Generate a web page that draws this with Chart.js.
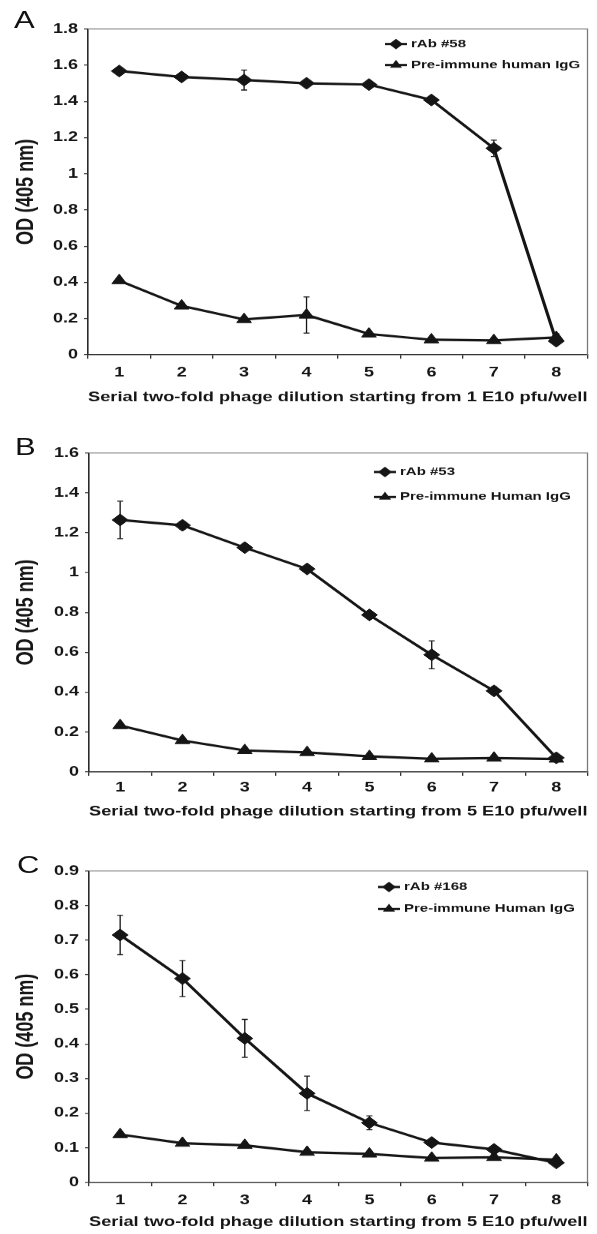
<!DOCTYPE html>
<html>
<head>
<meta charset="utf-8">
<script src="https://cdn.jsdelivr.net/npm/chart.js@4/dist/chart.umd.min.js"></script>
<style>
  html, body { margin: 0; padding: 0; background: #fff; }
  body { width: 597px; height: 1234px; position: relative; overflow: hidden; }
  /* the scanned figure is squashed vertically, so each panel is drawn tall and scaled down */
  .panel { position: absolute; left: 0; width: 597px; transform: scaleY(0.75); transform-origin: 0 0; }
  .panel canvas { position: absolute; left: 0; top: 0; }
  .letter { position: absolute; font: 31px "Liberation Sans", Arial, sans-serif; line-height: 1; color: #111; }
</style>
</head>
<body>
<div class="panel" id="pA"><canvas id="cA"></canvas><div class="letter">A</div></div>
<div class="panel" id="pB"><canvas id="cB"></canvas><div class="letter">B</div></div>
<div class="panel" id="pC"><canvas id="cC"></canvas><div class="letter">C</div></div>
<script>
const dilutions = ['1', '2', '3', '4', '5', '6', '7', '8'];

// panel A
const rab58 = [1.568, 1.535, 1.518, 1.500, 1.493, 1.408, 1.141, 0.075];
const rab58Err = [0.02, 0.01, 0.055, 0.012, 0.012, 0.015, 0.045, 0.015];
const preA = [0.410, 0.270, 0.195, 0.220, 0.115, 0.083, 0.079, 0.096];
const preAErr = [0.01, 0.015, 0.01, 0.10, 0.01, 0.008, 0.008, 0.02];
const yTicksA = [0, 0.2, 0.4, 0.6, 0.8, 1, 1.2, 1.4, 1.6, 1.8];

// panel B
const rab53 = [1.264, 1.237, 1.125, 1.018, 0.787, 0.587, 0.406, 0.070];
const rab53Err = [0.094, 0.02, 0.015, 0.012, 0.015, 0.07, 0.02, 0.01];
const preB = [0.232, 0.157, 0.107, 0.097, 0.077, 0.065, 0.069, 0.064];
const preBErr = [0.01, 0.01, 0.008, 0.008, 0.006, 0.006, 0.006, 0.006];
const yTicksB = [0, 0.2, 0.4, 0.6, 0.8, 1, 1.2, 1.4, 1.6];

// panel C
const rab168 = [0.715, 0.589, 0.416, 0.257, 0.172, 0.115, 0.095, 0.056];
const rab168Err = [0.057, 0.052, 0.055, 0.05, 0.02, 0.008, 0.008, 0.006];
const preC = [0.138, 0.113, 0.107, 0.087, 0.082, 0.070, 0.072, 0.065];
const preCErr = [0.006, 0.005, 0.005, 0.005, 0.005, 0.005, 0.005, 0.005];
const yTicksC = [0, 0.1, 0.2, 0.3, 0.4, 0.5, 0.6, 0.7, 0.8, 0.9];

const S = 0.75;
const FONT = '"Liberation Sans", Arial, sans-serif';
const INK = '#151515';

const frame = {
  id: 'frame',
  beforeDatasetsDraw(chart) {
    const { ctx, chartArea: a } = chart;
    ctx.save();
    ctx.strokeStyle = '#7a7a7a';
    ctx.lineWidth = 1.3;
    ctx.beginPath();
    ctx.moveTo(a.left, a.top);
    ctx.lineTo(a.right, a.top);
    ctx.lineTo(a.right, a.bottom);
    ctx.stroke();
    ctx.restore();
  }
};

const errorBars = {
  id: 'errorBars',
  beforeDatasetsDraw(chart) {
    const { ctx, scales: { x, y } } = chart;
    ctx.save();
    ctx.strokeStyle = INK;
    ctx.lineWidth = 1.3;
    chart.data.datasets.forEach(ds => {
      (ds.errorBars || []).forEach((e, i) => {
        const px = x.getPixelForValue(i);
        const y0 = y.getPixelForValue(ds.data[i] - e);
        const y1 = y.getPixelForValue(ds.data[i] + e);
        ctx.beginPath();
        ctx.moveTo(px, y0); ctx.lineTo(px, y1);
        ctx.moveTo(px - 3, y0); ctx.lineTo(px + 3, y0);
        ctx.moveTo(px - 3, y1); ctx.lineTo(px + 3, y1);
        ctx.stroke();
      });
    });
    ctx.restore();
  }
};

function marker(ctx, style, cx, cy, r) {
  ctx.beginPath();
  if (style === 'rectRot') {
    ctx.moveTo(cx, cy - r); ctx.lineTo(cx + r, cy); ctx.lineTo(cx, cy + r); ctx.lineTo(cx - r, cy);
  } else {
    ctx.moveTo(cx, cy - r); ctx.lineTo(cx + r * 0.866, cy + r / 2); ctx.lineTo(cx - r * 0.866, cy + r / 2);
  }
  ctx.closePath();
  ctx.fill();
}

const innerLegend = {
  id: 'innerLegend',
  afterDatasetsDraw(chart, args, opts) {
    const { ctx } = chart;
    ctx.save();
    ctx.font = 'bold 15px ' + FONT;
    ctx.textBaseline = 'middle';
    ctx.fillStyle = INK;
    ctx.strokeStyle = INK;
    chart.data.datasets.forEach((ds, i) => {
      const y = opts.rows[i] / S;
      ctx.lineWidth = 3;
      ctx.beginPath();
      ctx.moveTo(opts.x, y); ctx.lineTo(opts.x + 22, y);
      ctx.stroke();
      marker(ctx, ds.pointStyle, opts.x + 11, y, 7);
      ctx.fillText(ds.label, opts.x + 26, y);
    });
    ctx.restore();
  }
};

function series(label, data, err, style) {
  return {
    label: label, data: data, errorBars: err,
    borderColor: INK, backgroundColor: INK, borderWidth: 3.2,
    pointStyle: style, pointRadius: style === 'triangle' ? 8.5 : 8,
    pointBackgroundColor: INK, pointBorderColor: INK, pointBorderWidth: 1,
    tension: 0, fill: false
  };
}

function makePanel(p) {
  const wrap = document.getElementById('p' + p.id);
  wrap.style.top = p.top + 'px';
  wrap.style.height = (p.h / S) + 'px';
  const letter = wrap.querySelector('.letter');
  letter.style.left = (p.letter[0] - 10) + 'px';
  letter.style.top = (p.letter[1] / S - 16) + 'px';

  const canvas = document.getElementById('c' + p.id);
  const hv = Math.round(p.h / S);
  canvas.width = 597;
  canvas.height = hv;
  canvas.style.width = '597px';
  canvas.style.height = hv + 'px';

  const a = p.area;
  const xTickLen = 4 / S;
  const tickFont = { family: FONT, weight: 'bold', size: 18 };
  const xTitleFont = { family: FONT, weight: 'bold', size: 18.5 };
  const tickPad = (p.tickY - a.bottom) / S - xTickLen - 18 * 1.2 / 2;
  const titlePad = (p.h - p.titleY) / S - 18.5 * 1.2 / 2;

  new Chart(canvas, {
    type: 'line',
    data: {
      labels: dilutions,
      datasets: [
        series(p.names[0], p.values[0], p.errors[0], 'rectRot'),
        series(p.names[1], p.values[1], p.errors[1], 'triangle')
      ]
    },
    options: {
      responsive: false,
      animation: false,
      layout: { padding: { left: 0, top: a.top / S, right: 597 - a.right, bottom: 0 } },
      plugins: {
        legend: { display: false },
        tooltip: { enabled: false },
        innerLegend: { x: p.legendX, rows: p.legendRows }
      },
      scales: {
        x: {
          type: 'category',
          offset: true,
          grid: { offset: true, drawOnChartArea: false, drawTicks: true, tickLength: xTickLen, color: '#333', lineWidth: 1.3 },
          border: { color: '#2a2a2a', width: 1.6 },
          ticks: { font: tickFont, color: INK, padding: tickPad, maxRotation: 0 },
          title: { display: true, text: p.xTitle, font: xTitleFont, color: INK, padding: { top: 0, bottom: titlePad } },
          afterFit(s) { s.height = (p.h - a.bottom) / S; }
        },
        y: {
          min: 0,
          max: p.ticks[p.ticks.length - 1],
          afterBuildTicks(s) { s.ticks = p.ticks.map(v => ({ value: v })); },
          grid: { drawOnChartArea: false, drawTicks: true, tickLength: 4, color: '#333', lineWidth: 1.3 },
          border: { color: '#2a2a2a', width: 1.6 },
          ticks: { font: tickFont, color: INK, padding: 6, callback: v => String(v) },
          title: { display: true, text: 'OD (405 nm)', font: { family: FONT, weight: 'bold', size: 24 }, color: INK, padding: { top: 12, bottom: 0 } },
          afterFit(s) { s.width = a.left; }
        }
      }
    },
    plugins: [frame, errorBars, innerLegend]
  });
}

makePanel({
  id: 'A', top: 0, h: 415,
  area: { top: 29, bottom: 355, left: 88, right: 590 },
  tickY: 373, titleY: 398, letter: [24, 20],
  legendX: 385, legendRows: [44, 65],
  names: ['rAb #58', 'Pre-immune human IgG'],
  values: [rab58, preA], errors: [rab58Err, preAErr], ticks: yTicksA,
  xTitle: 'Serial two-fold phage dilution starting from 1 E10 pfu/well'
});

makePanel({
  id: 'B', top: 415, h: 415,
  area: { top: 38, bottom: 357, left: 89, right: 591 },
  tickY: 373, titleY: 397, letter: [25, 32],
  legendX: 374, legendRows: [57, 82],
  names: ['rAb #53', 'Pre-immune Human IgG'],
  values: [rab53, preB], errors: [rab53Err, preBErr], ticks: yTicksB,
  xTitle: 'Serial two-fold phage dilution starting from 5 E10 pfu/well'
});

makePanel({
  id: 'C', top: 830, h: 404,
  area: { top: 41, bottom: 352, left: 89, right: 593 },
  tickY: 370, titleY: 392, letter: [27, 35],
  legendX: 378, legendRows: [57, 79],
  names: ['rAb #168', 'Pre-immune Human IgG'],
  values: [rab168, preC], errors: [rab168Err, preCErr], ticks: yTicksC,
  xTitle: 'Serial two-fold phage dilution starting from 5 E10 pfu/well'
});
</script>
</body>
</html>
